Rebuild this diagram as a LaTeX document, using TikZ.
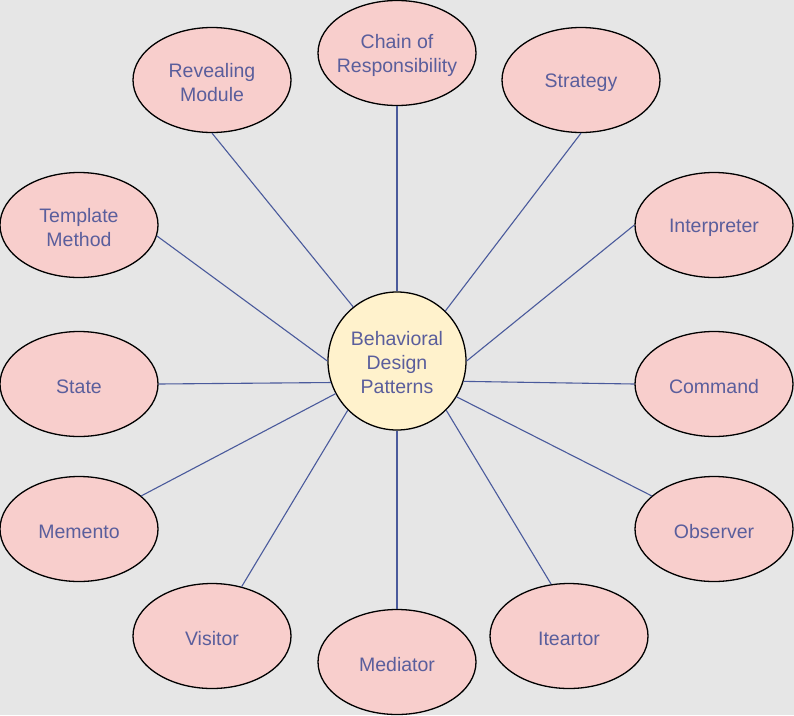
\documentclass[tikz,border=0pt]{standalone}
\usepackage{fontspec}
\setmainfont{Liberation Sans}
\usetikzlibrary{shapes.geometric}
\definecolor{bgcol}{HTML}{E6E6E6}
\definecolor{pinkfill}{HTML}{F8CECC}
\definecolor{hubfill}{HTML}{FFF2CC}
\definecolor{labelcol}{HTML}{5A5E9C}
\definecolor{linkcol}{HTML}{4A5A9C}
\tikzset{
  x=1pt, y=-1pt,
  pattern/.style={ellipse, draw=black, line width=1.3pt, fill=pinkfill,
    minimum width=158pt, minimum height=105pt, inner sep=0pt,
    label={[labelcol, align=center, yshift=-2.5pt,
            font=\fontsize{19.5}{24}\selectfont]center:#1}},
  hub/.style={circle, draw=black, line width=1.3pt, fill=hubfill,
    minimum size=138pt, inner sep=0pt, text=labelcol, align=center,
    font=\fontsize{19.5}{24}\selectfont},
  link/.style={draw=linkcol, line width=1.1pt}
}
\begin{document}
\begin{tikzpicture}
\fill[bgcol] (0,0) rectangle (794,715);
\useasboundingbox (0,0) rectangle (794,715);

% central topic
\node[hub] (hub) at (397,361) {};
\node[text=labelcol, align=center, font=\fontsize{19.5}{24}\selectfont]
  (hubtext) at ([yshift=-2pt]hub.center) {Behavioral\\Design\\Patterns};

% individual patterns
\node[pattern={Chain of\\Responsibility}] (chain) at (397,53) {};
\node[pattern={Revealing\\Module}] (reveal) at (212,80) {};
\node[pattern={Strategy}] (strategy) at (581,80) {};
\node[pattern={Template\\Method}] (template) at (79,225) {};
\node[pattern={Interpreter}] (interp) at (714,225) {};
\node[pattern={State}] (state) at (79,384) {};
\node[pattern={Command}] (command) at (714,384) {};
\node[pattern={Memento}] (memento) at (79,529) {};
\node[pattern={Observer}] (observer) at (714,529) {};
\node[pattern={Visitor}] (visitor) at (212,636) {};
\node[pattern={Iteartor}] (iterator) at (569,636) {};
\node[pattern={Mediator}] (mediator) at (397,662) {};

% spokes from the hub to each pattern
\draw[link] (chain.270) -- (hub.90);
\draw[link] (reveal.270) -- (hub.129);
\draw[link] (strategy.270) -- (hub.46);
\draw[link] (template.-8.5) -- (hub.180);
\draw[link] (interp.180) -- (hub.0);
\draw[link] (state.0) -- (hub.198);
\draw[link] (command.180) -- (hub.-17);
\draw[link] (memento.28) -- (hub.208);
\draw[link] (observer.152.7) -- (hub.-31.7);
\draw[link] (visitor.59.5) -- (hub.225.6);
\draw[link] (iterator.109.7) -- (hub.-45);
\draw[link] (mediator.90) -- (hub.270);
\end{tikzpicture}
\end{document}
